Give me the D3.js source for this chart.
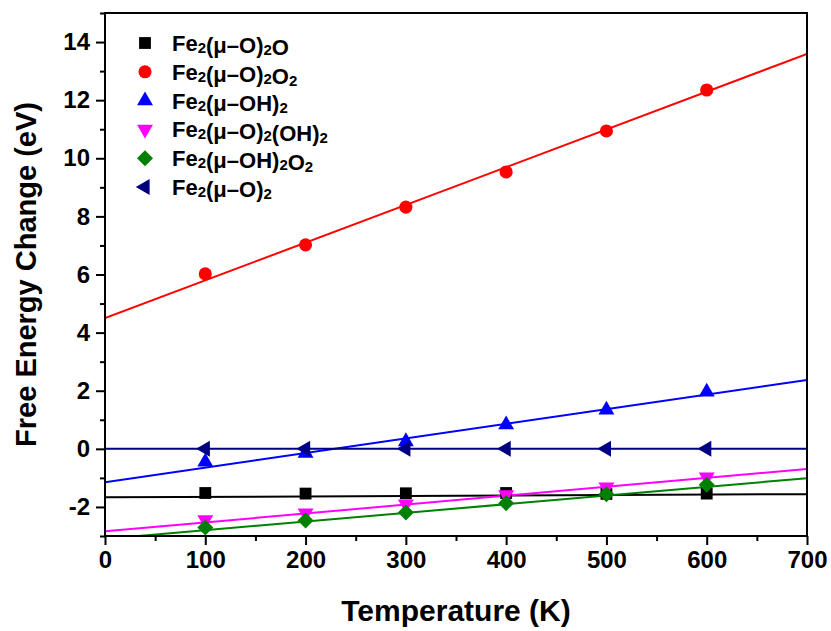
<!DOCTYPE html>
<html>
<head>
<meta charset="utf-8">
<script src="https://cdn.jsdelivr.net/npm/d3@7"></script>
<style>
  body { margin: 0; background: #fff; }
  svg text { font-family: Arial, "Liberation Sans", sans-serif; font-weight: bold; }
</style>
</head>
<body>
<div id="chart"></div>
<script>
// temperatures (K) where the points were computed
const temps = [100, 200, 300, 400, 500, 600];

// series names, split into parts so the subscripts can be drawn smaller
const seriesNames = [
  [['Fe'], ['2', 'sub'], ['(μ–O)'], ['2', 'sub'], ['O']],
  [['Fe'], ['2', 'sub'], ['(μ–O)'], ['2', 'sub'], ['O'], ['2', 'sub']],
  [['Fe'], ['2', 'sub'], ['(μ–OH)'], ['2', 'sub']],
  [['Fe'], ['2', 'sub'], ['(μ–O)'], ['2', 'sub'], ['(OH)'], ['2', 'sub']],
  [['Fe'], ['2', 'sub'], ['(μ–OH)'], ['2', 'sub'], ['O'], ['2', 'sub']],
  [['Fe'], ['2', 'sub'], ['(μ–O)'], ['2', 'sub']]
];

// free energy change (eV)
const fe2o2o    = [-1.52, -1.54, -1.53, -1.52, -1.55, -1.54];
const fe2o2o2   = [6.02, 7.02, 8.32, 9.53, 10.94, 12.35];
const fe2oh2    = [-0.45, -0.15, 0.25, 0.83, 1.34, 1.96];
const fe2o2oh2  = [-2.44, -2.21, -1.90, -1.58, -1.32, -0.97];
const fe2oh2o2  = [-2.71, -2.47, -2.19, -1.87, -1.56, -1.24];
const fe2o2     = [0, 0, 0, 0, 0, 0];

// linear fits: value at 0 K and at 700 K
const fitStart = [-1.67, 4.50, -1.15, -2.84, -3.10, 0];
const fitEnd   = [-1.56, 13.59, 2.37, -0.69, -1.01, 0];

const colors = ['#000000', '#ff0000', '#0000ff', '#ff00ff', '#008000', '#000080'];
const shapes = ['square', 'circle', 'up', 'down', 'diamond', 'left'];

const xMajor = [0, 100, 200, 300, 400, 500, 600, 700];
const xMinor = [50, 150, 250, 350, 450, 550, 650];
const yMajor = [-2, 0, 2, 4, 6, 8, 10, 12, 14];
const yMinor = [-3, -1, 1, 3, 5, 7, 9, 11, 13, 15];

const allSeries = [fe2o2o, fe2o2o2, fe2oh2, fe2o2oh2, fe2oh2o2, fe2o2];

const W = 831, H = 631;
const margin = { top: 13, right: 24, bottom: 95, left: 105 };
const width = W - margin.left - margin.right;
const height = H - margin.top - margin.bottom;

const svg = d3.select('#chart').append('svg')
  .attr('width', W).attr('height', H);

const g = svg.append('g')
  .attr('transform', `translate(${margin.left},${margin.top})`);

const xScale = d3.scaleLinear().domain([0, 700]).range([0, width]);
const yScale = d3.scaleLinear().domain([-3, 15]).range([height, 0]);

g.append('clipPath').attr('id', 'plot-clip')
  .append('rect').attr('width', width).attr('height', height);

// marker paths
function markerPath(shape) {
  if (shape === 'square') return d3.symbol(d3.symbolSquare, 140)();
  if (shape === 'circle') return d3.symbol(d3.symbolCircle, 135)();
  if (shape === 'diamond') return 'M0,-8L8,0L0,8L-8,0Z';
  return d3.symbol(d3.symbolTriangle, 110)();
}
function markerRotate(shape) {
  if (shape === 'down') return 180;
  if (shape === 'left') return -90;
  return 0;
}

// fit lines
const lines = g.append('g').attr('clip-path', 'url(#plot-clip)');
fitStart.forEach((v, i) => {
  lines.append('line')
    .attr('x1', xScale(0)).attr('y1', yScale(v))
    .attr('x2', xScale(700)).attr('y2', yScale(fitEnd[i]))
    .attr('stroke', colors[i])
    .attr('stroke-width', 2);
});

// points
allSeries.forEach((vals, i) => {
  g.append('g').selectAll('path')
    .data(vals)
    .join('path')
    .attr('d', markerPath(shapes[i]))
    .attr('fill', colors[i])
    .attr('transform', (d, j) =>
      `translate(${xScale(temps[j])},${yScale(d)}) rotate(${markerRotate(shapes[i])})`);
});

// axes (hyphen minus like the original, not the unicode minus)
const fmt = d => String(d);
g.append('g')
  .attr('transform', `translate(0,${height})`)
  .call(d3.axisBottom(xScale).tickValues(xMajor).tickSize(9).tickPadding(6).tickFormat(fmt));
g.append('g')
  .attr('transform', `translate(0,${height})`)
  .call(d3.axisBottom(xScale).tickValues(xMinor).tickSize(5).tickFormat(''));

g.append('g')
  .call(d3.axisLeft(yScale).tickValues(yMajor).tickSize(9).tickPadding(6).tickFormat(fmt));
g.append('g')
  .call(d3.axisLeft(yScale).tickValues(yMinor).tickSize(5).tickFormat(''));

g.selectAll('.domain').remove();
g.selectAll('.tick line').attr('stroke', '#000').attr('stroke-width', 2);
g.selectAll('.tick text')
  .attr('fill', '#000')
  .style('font-size', '24px');

// frame
g.append('rect')
  .attr('width', width).attr('height', height)
  .attr('fill', 'none')
  .attr('stroke', '#000')
  .attr('stroke-width', 2);

// axis titles
svg.append('text')
  .attr('x', margin.left + width / 2)
  .attr('y', 621)
  .attr('text-anchor', 'middle')
  .style('font-size', '30px')
  .text('Temperature (K)');

svg.append('text')
  .attr('transform', `translate(36,${margin.top + height / 2}) rotate(-90)`)
  .attr('text-anchor', 'middle')
  .style('font-size', '29px')
  .text('Free Energy Change (eV)');

// legend
const legend = svg.append('g');
seriesNames.forEach((parts, i) => {
  const y = 43 + i * 28.8;
  legend.append('path')
    .attr('d', markerPath(shapes[i]))
    .attr('fill', colors[i])
    .attr('transform', `translate(145,${y}) rotate(${markerRotate(shapes[i])})`);
  const t = legend.append('text')
    .attr('x', 172).attr('y', y + 8)
    .style('font-size', '22px');
  parts.forEach(p => {
    if (p[1] === 'sub') {
      t.append('tspan').style('font-size', '15px').attr('dy', 2).text(p[0]);
      t.append('tspan').attr('dy', -2).text('');
    } else {
      t.append('tspan').text(p[0]);
    }
  });
});
</script>
</body>
</html>
